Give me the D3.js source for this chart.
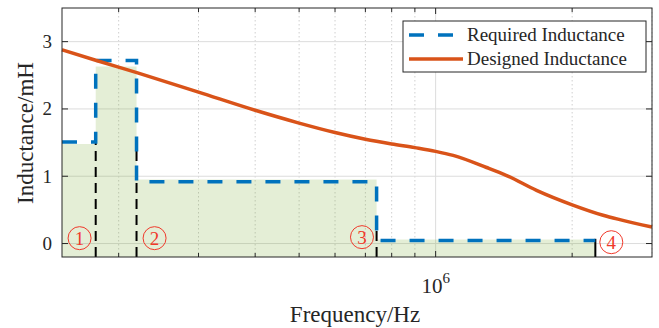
<!DOCTYPE html>
<html>
<head>
<meta charset="utf-8">
<style>
  html, body { margin: 0; padding: 0; background: #fff; }
  text { font-family: "Liberation Serif", "Times New Roman", serif; fill: #262626; }
  .grid line { stroke: #dcdcdc; }
  .minor line { stroke: #cfcfcf; stroke-dasharray: 1.5,2.5; }
</style>
</head>
<body>
<div id="chart"></div>
<script src="https://d3js.org/d3.v7.min.js"></script>
<script>

// required inductance steps (edges in Hz, levels in mH)
var stepEdges = [1.5e5, 1.78e5, 2.19e5, 7.41e5, 2.25e6];
var requiredLevels = [1.51, 2.72, 0.92, 0.045];
var fillLevels = [1.48, 2.63, 0.95, 0.06];

// black boundary markers
var markerFreqs = [1.78e5, 2.19e5, 7.41e5, 2.25e6];
var markerTops = [1.53, 1.58, 0.34, 0.07];

// designed inductance curve
var designedFreq = [1.5e5, 1.787e5, 2.193e5, 3e5, 4e5, 5e5, 6e5, 7e5, 8e5, 9e5, 1e6,
                    1.093e6, 1.295e6, 1.434e6, 1.669e6, 2e6, 2.34e6, 2.548e6, 3e6];
var designedL = [2.88, 2.72, 2.54, 2.25, 1.98, 1.79, 1.65, 1.55, 1.48, 1.425, 1.37,
                 1.31, 1.13, 1.01, 0.79, 0.575, 0.42, 0.355, 0.245];

var yTicks = [0, 1, 2, 3];
var xMinor = [2e5, 3e5, 4e5, 5e5, 6e5, 7e5, 8e5, 9e5, 2e6, 3e6];
var xMajor = [1e6];

var regionLabels = ["1", "2", "3", "4"];
var regionFreqs = [1.64e5, 2.4e5, 6.88e5, 2.44e6];
var regionVals = [0.08, 0.08, 0.095, 0.02];

var seriesNames = ["Required Inductance", "Designed Inductance"];

var W = 659, H = 328;
var margin = {top: 8, right: 7, bottom: 71, left: 62},
    width = W - margin.left - margin.right,
    height = H - margin.top - margin.bottom;

var x = d3.scaleLog().domain([1.5e5, 3e6]).range([0, width]);
var y = d3.scaleLinear().domain([-0.2, 3.5]).range([height, 0]);

var svg = d3.select("#chart").append("svg")
    .attr("width", W)
    .attr("height", H)
  .append("g")
    .attr("transform", "translate(" + margin.left + "," + margin.top + ")");

// grid
svg.append("g").attr("class", "minor")
  .selectAll("line").data(xMinor).enter().append("line")
    .attr("x1", function(d) { return x(d); }).attr("x2", function(d) { return x(d); })
    .attr("y1", 0).attr("y2", height);

svg.append("g").attr("class", "grid")
  .selectAll("line").data(xMajor).enter().append("line")
    .attr("x1", function(d) { return x(d); }).attr("x2", function(d) { return x(d); })
    .attr("y1", 0).attr("y2", height);

svg.append("g").attr("class", "grid")
  .selectAll("line").data(yTicks).enter().append("line")
    .attr("x1", 0).attr("x2", width)
    .attr("y1", function(d) { return y(d); }).attr("y2", function(d) { return y(d); });

// shaded area under required steps
var fillPts = [];
fillLevels.forEach(function(v, i) {
  fillPts.push([stepEdges[i], v], [stepEdges[i + 1], v]);
});
svg.append("path")
    .datum(fillPts)
    .attr("fill", "rgb(119,172,48)")
    .attr("fill-opacity", 0.2)
    .attr("d", d3.area()
      .x(function(d) { return x(d[0]); })
      .y0(height)
      .y1(function(d) { return y(d[1]); }));

// black boundary markers
svg.append("g")
  .selectAll("line").data(markerFreqs).enter().append("line")
    .attr("x1", function(d) { return x(d); }).attr("x2", function(d) { return x(d); })
    .attr("y1", height)
    .attr("y2", function(d, i) { return y(markerTops[i]); })
    .attr("stroke", "#000")
    .attr("stroke-width", 2)
    .attr("stroke-dasharray", function(d, i) { return i == 3 ? null : "10,6"; });

// required inductance (dashed step)
var reqPts = [];
requiredLevels.forEach(function(v, i) {
  reqPts.push([stepEdges[i], v], [stepEdges[i + 1], v]);
});
svg.append("path")
    .datum(reqPts)
    .attr("fill", "none")
    .attr("stroke", "#0072BD")
    .attr("stroke-width", 3.5)
    .attr("stroke-dasharray", "15,14")
    .attr("d", d3.line()
      .x(function(d) { return x(d[0]); })
      .y(function(d) { return y(d[1]); }));

// designed inductance
svg.append("path")
    .datum(designedFreq.map(function(f, i) { return [f, designedL[i]]; }))
    .attr("fill", "none")
    .attr("stroke", "#D95319")
    .attr("stroke-width", 3.5)
    .attr("d", d3.line()
      .curve(d3.curveMonotoneX)
      .x(function(d) { return x(d[0]); })
      .y(function(d) { return y(d[1]); }));

// circled region numbers
var reg = svg.append("g").selectAll("g").data(regionLabels).enter().append("g")
    .attr("transform", function(d, i) {
      return "translate(" + x(regionFreqs[i]) + "," + y(regionVals[i]) + ")";
    });
reg.append("circle").attr("r", 11.5)
    .attr("fill", "none").attr("stroke", "#f0392b").attr("stroke-width", 1);
reg.append("text")
    .attr("text-anchor", "middle")
    .attr("dy", "0.35em")
    .style("font-size", "19px")
    .style("fill", "#f0392b")
    .text(function(d) { return d; });

// axes box
svg.append("rect")
    .attr("width", width).attr("height", height)
    .attr("fill", "none").attr("stroke", "#262626").attr("stroke-width", 1);

// ticks (inward, on all sides)
function xTickLines(data, len) {
  var g = svg.append("g");
  g.selectAll(".b").data(data).enter().append("line")
    .attr("x1", function(d) { return x(d); }).attr("x2", function(d) { return x(d); })
    .attr("y1", height).attr("y2", height - len).attr("stroke", "#262626");
  g.selectAll(".t").data(data).enter().append("line")
    .attr("x1", function(d) { return x(d); }).attr("x2", function(d) { return x(d); })
    .attr("y1", 0).attr("y2", len).attr("stroke", "#262626");
}
xTickLines(xMinor.filter(function(d) { return d < 3e6; }), 4);
xTickLines(xMajor, 6);

var yt = svg.append("g");
yt.selectAll(".l").data(yTicks).enter().append("line")
    .attr("x1", 0).attr("x2", 6)
    .attr("y1", function(d) { return y(d); }).attr("y2", function(d) { return y(d); })
    .attr("stroke", "#262626");
yt.selectAll(".r").data(yTicks).enter().append("line")
    .attr("x1", width).attr("x2", width - 6)
    .attr("y1", function(d) { return y(d); }).attr("y2", function(d) { return y(d); })
    .attr("stroke", "#262626");
yt.selectAll("text").data(yTicks).enter().append("text")
    .attr("x", -10)
    .attr("y", function(d) { return y(d); })
    .attr("dy", "0.34em")
    .attr("text-anchor", "end")
    .style("font-size", "19px")
    .text(function(d) { return d; });

// 10^6 label
var xl = svg.append("text")
    .attr("x", x(1e6))
    .attr("y", height + 36)
    .attr("text-anchor", "middle")
    .style("font-size", "21px");
xl.append("tspan").text("10");
xl.append("tspan").attr("dy", -10).style("font-size", "15px").text("6");

// axis titles
svg.append("text")
    .attr("x", 293)
    .attr("y", height + 65)
    .attr("text-anchor", "middle")
    .style("font-size", "23px")
    .text("Frequency/Hz");

svg.append("text")
    .attr("transform", "translate(-29," + 125 + ") rotate(-90)")
    .attr("text-anchor", "middle")
    .style("font-size", "23px")
    .text("Inductance/mH");

// legend
var lg = svg.append("g").attr("transform", "translate(" + (403 - margin.left) + "," + (21 - margin.top) + ")");
lg.append("rect")
    .attr("width", 243).attr("height", 51)
    .attr("fill", "#fff").attr("stroke", "#262626").attr("stroke-width", 1);
var items = lg.selectAll(".item").data(seriesNames).enter().append("g")
    .attr("transform", function(d, i) { return "translate(0," + (14 + i * 24) + ")"; });
items.append("line")
    .attr("x1", 6).attr("x2", 60).attr("y1", 0).attr("y2", 0)
    .attr("stroke", function(d, i) { return i == 0 ? "#0072BD" : "#D95319"; })
    .attr("stroke-width", 3.5)
    .attr("stroke-dasharray", function(d, i) { return i == 0 ? "15,14" : null; });
items.append("text")
    .attr("x", 64)
    .attr("dy", "0.33em")
    .style("font-size", "19px")
    .text(function(d) { return d; });

</script>
</body>
</html>
